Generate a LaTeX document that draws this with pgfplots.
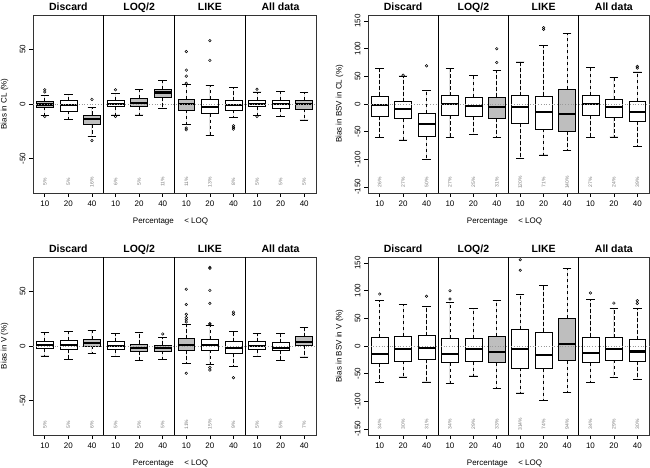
\documentclass[border=0pt]{standalone}
\usepackage{fontspec}
\setmainfont{Liberation Sans}
\usepackage{pgfplots}
\pgfplotsset{compat=1.18}
\usepgfplotslibrary{statistics}

\definecolor{boxgray}{HTML}{BEBEBE}
\definecolor{pctgray}{HTML}{7A7A7A}
\definecolor{zerogray}{HTML}{9A9A9A}

\pgfplotsset{
  panel/.style={
    scale only axis, width=283pt, height=178pt,
    xmin=0.5, xmax=12.5,
    xtick={1,...,12},
    xticklabels={10,20,40,10,20,40,10,20,40,10,20,40},
    xtick pos=bottom, ytick pos=left,
    tick align=outside, major tick length=4pt,
    axis line style={black!80, line width=0.8pt},
    tick style={black, line width=0.6pt},
    ticklabel style={font=\fontsize{8}{9}\selectfont},
    /pgf/number format/assume math mode=true,
    yticklabel style={rotate=90, anchor=south},
    every axis y label/.style={at={(axis description cs:0,0.5)}, xshift=-28.5pt,
      rotate=90, anchor=center, font=\fontsize{8}{9}\selectfont},
    every axis x label/.style={at={(axis description cs:0.5,0)},
      anchor=center, yshift=-29pt, xshift=-4pt, font=\fontsize{8}{9}\selectfont},
    xlabel={Percentage\hspace{1.3em}< LOQ},
    clip=false,
    boxplot/draw direction=y,
    boxplot/box extend=0.72,
    boxplot/whisker extend=0.36,
    boxplot/every median/.style={black, line width=2.2pt},
    boxplot/draw/lower whisker/.code={%
      \draw[black, line width=0.6pt, dash pattern=on 3.5pt off 2.5pt]
        (boxplot cs:\pgfplotsboxplotvalue{lower quartile}) --
        (boxplot cs:\pgfplotsboxplotvalue{lower whisker});
      \draw[black, line width=0.6pt, solid]
        (boxplot whisker cs:\pgfplotsboxplotvalue{lower whisker},0) --
        (boxplot whisker cs:\pgfplotsboxplotvalue{lower whisker},1);
    },
    boxplot/draw/upper whisker/.code={%
      \draw[black, line width=0.6pt, dash pattern=on 3.5pt off 2.5pt]
        (boxplot cs:\pgfplotsboxplotvalue{upper quartile}) --
        (boxplot cs:\pgfplotsboxplotvalue{upper whisker});
      \draw[black, line width=0.6pt, solid]
        (boxplot whisker cs:\pgfplotsboxplotvalue{upper whisker},0) --
        (boxplot whisker cs:\pgfplotsboxplotvalue{upper whisker},1);
    },
  },
  small/.style={panel, ymin=-81.5, ymax=81.5, ytick={-50,0,50}},
  big/.style={panel, ymin=-161, ymax=161, ytick={-150,-100,...,150}},
}
\tikzset{
  ttl/.style={anchor=base, yshift=4.5pt, font=\bfseries\fontsize{10.5}{12}\selectfont},
  pct/.style={rotate=90, anchor=center, text=pctgray, font=\fontsize{5}{6}\selectfont},
}

% pos, fill, lower whisker, lower quartile, median, upper quartile, upper whisker
\newcommand{\bx}[7]{\addplot[draw=black, line width=0.6pt, fill=#2,
  boxplot prepared={draw position=#1, lower whisker=#3, lower quartile=#4,
  median=#5, upper quartile=#6, upper whisker=#7}] coordinates {};}
\newcommand{\outl}[1]{\addplot[only marks, mark=o, mark size=1.3pt,
  mark options={line width=0.5pt}, black] coordinates {#1};}
\newcommand{\pcts}[2]{%
  \foreach \p [count=\i] in {#2} {%
    \edef\tmp{\noexpand\node[pct] at (axis cs:\i,#1) {\p\noexpand\%};}\tmp}}
\newcommand{\extras}{%
  \addplot[zerogray, dotted, line width=0.7pt] coordinates {(0.5,0) (12.5,0)};
  \foreach \d in {3.5,6.5,9.5} {%
    \edef\tmp{\noexpand\draw[black, line width=0.8pt] ({axis cs:\d,0}|-{rel axis cs:0,0}) -- ({axis cs:\d,0}|-{rel axis cs:0,1});}\tmp}
  \node[ttl] at ({axis cs:2,0}|-{rel axis cs:0,1}) {Discard};
  \node[ttl] at ({axis cs:5,0}|-{rel axis cs:0,1}) {LOQ/2};
  \node[ttl] at ({axis cs:8,0}|-{rel axis cs:0,1}) {LIKE};
  \node[ttl] at ({axis cs:11,0}|-{rel axis cs:0,1}) {All data};
}

\begin{document}
\begin{tikzpicture}
% Bias in CL
\begin{axis}[small, at={(33pt,275pt)}, anchor=south west, ylabel={Bias in CL (\%)}]
\bx{1}{boxgray}{-10.5}{-2.7}{-0.5}{2.7}{8}
\bx{2}{white}{-14}{-6.4}{-1.2}{3.6}{8.8}
\bx{3}{boxgray}{-30}{-18.5}{-14}{-10}{-3.3}
\bx{4}{white}{-10}{-2.4}{0}{3.6}{9.7}
\bx{5}{boxgray}{-10}{-2.4}{1.2}{5.2}{13.3}
\bx{6}{boxgray}{-4}{6}{10.6}{13.3}{21.5}
\bx{7}{boxgray}{-19}{-5.5}{-0.3}{4.2}{18}
\bx{8}{white}{-28.5}{-8.8}{-3}{4.2}{17}
\bx{9}{white}{-12.4}{-5.5}{-1}{3}{15}
\bx{10}{white}{-10.3}{-2.4}{0}{3.6}{11}
\bx{11}{white}{-11}{-4.2}{0}{3.6}{11.5}
\bx{12}{boxgray}{-14.5}{-4.5}{-0.3}{3.6}{10.3}
\outl{(1,13) (1,11) (1,-11.5) (3,4.2) (3,-33.5) (4,13) (4,-11.5)
  (7,48) (7,31) (7,25.5) (7,19) (7,-22) (7,-23.6) (8,58) (8,40)
  (9,-20) (9,-21.5) (9,-23) (10,13.5) (10,-11.5)}
\extras
\pcts{-71.5}{5,5,16,6,5,11,11,13,8,5,5,5}
\end{axis}

% Bias in BSV in CL
\begin{axis}[big, at={(368pt,275pt)}, anchor=south west, width=281pt, ylabel={Bias in BSV in CL (\%)}]
\bx{1}{white}{-61}{-22}{-2.4}{14.5}{64.5}
\bx{2}{white}{-65}{-26.5}{-9.5}{4.5}{51}
\bx{3}{white}{-100}{-59}{-35.5}{-17}{24}
\bx{4}{white}{-61}{-20.5}{-0.5}{15}{65}
\bx{5}{white}{-55}{-22}{-4}{12}{52}
\bx{6}{boxgray}{-61}{-26}{-5}{13}{61}
\bx{7}{white}{-98}{-35}{-5}{15}{76}
\bx{8}{white}{-92}{-45}{-14}{14.5}{106}
\bx{9}{boxgray}{-84}{-49}{-18}{26.5}{127}
\bx{10}{white}{-60}{-20.5}{0.6}{16}{66}
\bx{11}{white}{-59.5}{-24}{-5.5}{8.4}{47.5}
\bx{12}{white}{-77}{-31}{-14}{5.4}{58}
\outl{(2,52) (3,69) (6,100) (6,75) (8,138) (8,135) (12,68) (12,65)}
\extras
\pcts{-142}{26,27,50,27,25,31,120,71,140,27,24,39}
\end{axis}

% Bias in V
\begin{axis}[small, at={(33pt,33pt)}, anchor=south west, ylabel={Bias in V (\%)}]
\bx{1}{white}{-9}{-2.4}{1}{4.5}{12.7}
\bx{2}{white}{-12}{-3}{0.6}{5.2}{13.6}
\bx{3}{boxgray}{-7}{0}{3}{6}{14.2}
\bx{4}{white}{-9.4}{-3.3}{0.3}{4}{11.5}
\bx{5}{boxgray}{-13}{-5}{-1.5}{2}{12.7}
\bx{6}{boxgray}{-12.5}{-4.5}{-1.5}{1}{8}
\bx{7}{boxgray}{-16}{-4}{1}{6.7}{20}
\bx{8}{white}{-16.5}{-3.6}{0.6}{6}{19}
\bx{9}{white}{-19}{-6.7}{-1.5}{4}{13.6}
\bx{10}{white}{-9.4}{-3.3}{0.3}{4}{11.8}
\bx{11}{white}{-13}{-4}{-1.5}{3}{11.8}
\bx{12}{boxgray}{-10}{0.6}{4}{8.5}{17}
\outl{(6,11) (7,52) (7,38) (7,29) (7,26) (7,24) (7,22) (7,-25)
  (8,72) (8,71) (8,51) (8,39) (8,20.5) (8,20) (8,-19.7) (8,-22)
  (9,31) (9,29) (9,-29)}
\extras
\pcts{-71.8}{5,5,6,5,5,5,11,15,9,5,5,7}
\end{axis}

% Bias in BSV in V
\begin{axis}[big, at={(368pt,33pt)}, anchor=south west, width=281pt, ylabel={Bias in BSV in V (\%)}]
\bx{1}{white}{-65.6}{-31.6}{-14}{16}{82}
\bx{2}{white}{-56}{-27}{-5}{17.6}{74.7}
\bx{3}{white}{-65}{-23.7}{-4.3}{18.8}{71}
\bx{4}{white}{-67}{-30}{-14}{14}{79}
\bx{5}{white}{-54}{-28.5}{-5.5}{14}{68.6}
\bx{6}{boxgray}{-76}{-30}{-11}{17.6}{82}
\bx{7}{white}{-85}{-39.5}{-6}{30}{94}
\bx{8}{white}{-98}{-41}{-17}{25.5}{109}
\bx{9}{boxgray}{-84}{-26.7}{3.6}{50}{141}
\bx{10}{white}{-65.6}{-30}{-13}{16.4}{84.4}
\bx{11}{white}{-56.5}{-25}{-5}{15}{68.6}
\bx{12}{white}{-61}{-28}{-10}{11.5}{68.6}
\outl{(1,94) (3,90) (4,100) (4,85) (7,156) (7,137) (10,96) (11,77.7) (12,82) (12,77)}
\extras
\pcts{-141.6}{34,30,31,34,29,33,314,74,94,34,29,30}
\end{axis}

\pgfresetboundingbox
\path[use as bounding box] (0,0) rectangle (650pt,468pt);
\end{tikzpicture}
\end{document}
